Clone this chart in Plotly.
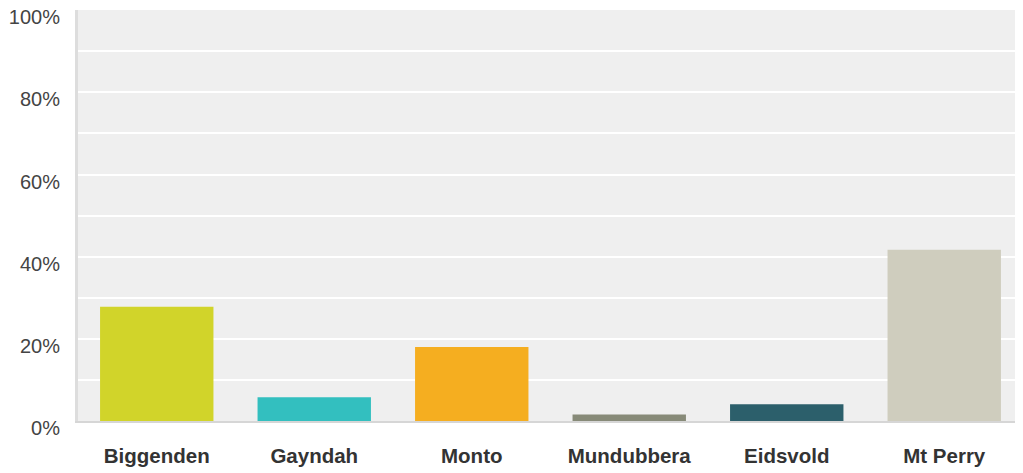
import plotly.graph_objects as go

categories = ["Biggenden", "Gayndah", "Monto", "Mundubbera", "Eidsvold", "Mt Perry"]
values = [27.8, 5.8, 18.0, 1.6, 4.1, 41.7]
colors = ["#D1D42A", "#33BFBF", "#F5AE20", "#878A78", "#2C5F6B", "#CFCDBE"]
y_ticks = [0, 20, 40, 60, 80, 100]
y_tick_labels = ["0%", "20%", "40%", "60%", "80%", "100%"]

fig = go.Figure(go.Bar(
    x=categories, y=values,
    marker=dict(color=colors, line=dict(width=0)),
    hoverinfo="skip",
))

fig.update_layout(
    width=1015, height=465,
    margin=dict(l=70, r=0, t=2, b=52, autoexpand=False),
    paper_bgcolor="white",
    plot_bgcolor="#EFEFEF",
    bargap=0.28,
    showlegend=False,
    font=dict(family="Liberation Sans, Arial, sans-serif", color="#333333"),
)
fig.update_xaxes(
    automargin=False,
    showline=True, linecolor="#D6D6D6", linewidth=2,
    showgrid=False, ticks="",
    tickfont=dict(size=20.5, color="#333333", family="Liberation Sans, Arial, sans-serif", weight="bold"),
    ticklabelstandoff=15,
)
fig.update_yaxes(
    automargin=False,
    range=[0, 100.05], tickvals=y_ticks, ticktext=y_tick_labels,
    ticklabeloverflow="allow",
    showline=True, linecolor="#DDDDDD", linewidth=3,
    gridcolor="white", gridwidth=2,
    minor=dict(dtick=10, showgrid=True, gridcolor="white", gridwidth=2),
    zeroline=False, ticks="",
    tickfont=dict(size=20, color="#444444"),
    ticklabelstandoff=11, ticklabelshift=7,
)

fig.write_html("out.html")
